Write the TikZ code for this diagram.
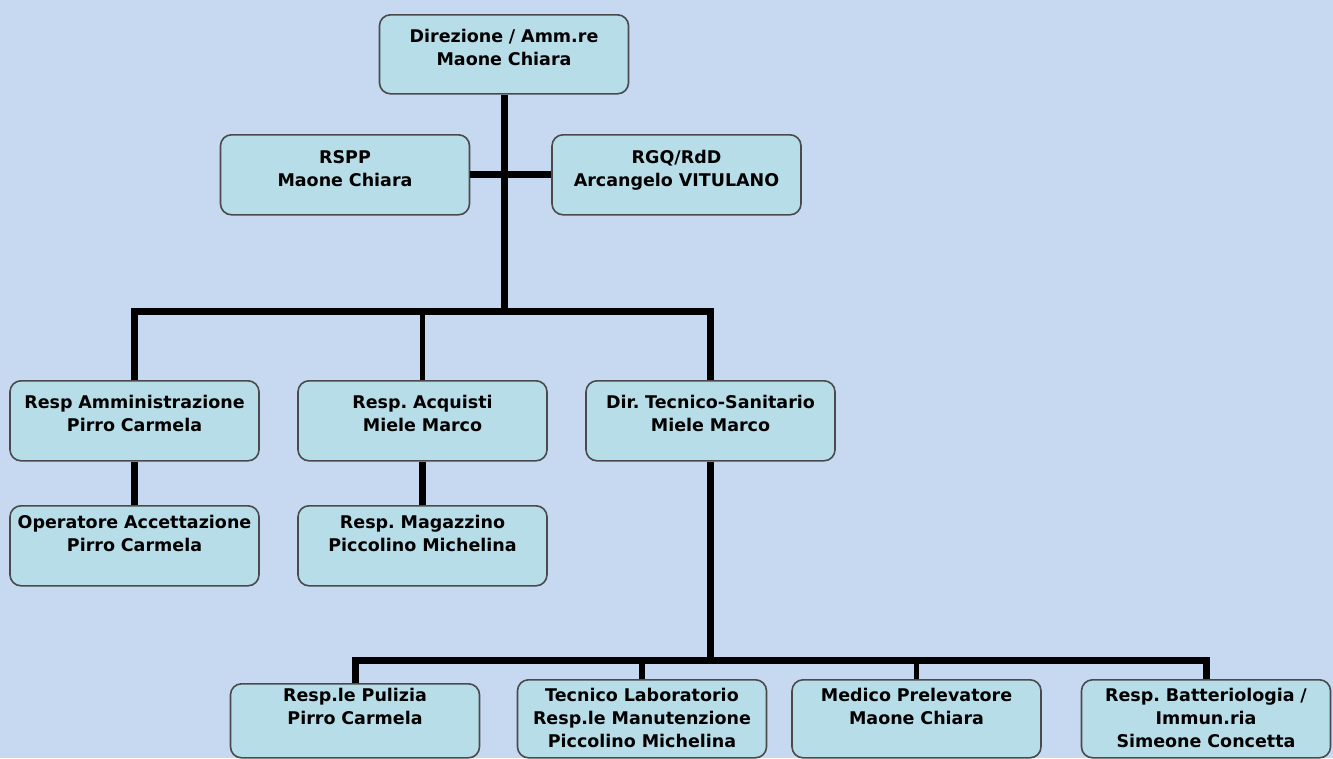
\documentclass[tikz,border=0pt]{standalone}
\usepackage{fontspec}
\setmainfont{DejaVu Sans}
\frenchspacing
\definecolor{bgblue}{HTML}{C6D9F1}
\definecolor{boxfill}{HTML}{B7DEE8}
\definecolor{boxline}{HTML}{4A4A4A}
\tikzset{
	unit/.style={draw=boxline, line width=1.6pt, fill=boxfill, rounded corners=11pt,
		anchor=north, inner sep=0pt, minimum width=249pt, text width=249pt, align=center,
		font=\fontsize{17.5}{23}\selectfont\bfseries, text height=28pt, text depth=51pt},
	link/.style={line width=7pt, color=black}
}

\begin{document}
\begin{tikzpicture}[x=1pt, y=-1pt]
		%%%%% START %%%%%
		
		\fill[bgblue] (0, 0) rectangle (1333, 758);
		\useasboundingbox (0, 0) rectangle (1333, 758);
		
		% top level
		\node[unit] (dir) at (504, 14) {Direzione / Amm.re\\Maone Chiara};
		\node[unit, text height=29pt, text depth=51pt] (rspp) at (345, 134) {RSPP\\Maone Chiara};
		\node[unit, text height=29pt, text depth=51pt] (rgq) at (676.5, 134) {RGQ/RdD\\Arcangelo VITULANO};
		
		% second level
		\node[unit, text height=28pt, text depth=52pt] (amm) at (134.5, 380) {Resp Amministrazione\\Pirro Carmela};
		\node[unit, text height=28pt, text depth=52pt] (acq) at (422.5, 380) {Resp. Acquisti\\Miele Marco};
		\node[unit, text height=28pt, text depth=52pt] (tec) at (710.5, 380) {Dir. Tecnico-Sanitario\\Miele Marco};
		
		\node[unit, text height=23pt, text depth=57pt] (opacc) at (134.5, 505) {Operatore Accettazione\\Pirro Carmela};
		\node[unit, text height=23pt, text depth=57pt] (mag) at (422.5, 505) {Resp. Magazzino\\Piccolino Michelina};
		
		% third level
		\node[unit, text height=18pt, text depth=56pt] (pul) at (355, 683) {Resp.le Pulizia\\Pirro Carmela};
		\node[unit, text height=22pt, text depth=56pt] (lab) at (642, 679) {Tecnico Laboratorio\\Resp.le Manutenzione\\Piccolino Michelina};
		\node[unit, text height=22pt, text depth=56pt] (med) at (916.5, 679) {Medico Prelevatore\\Maone Chiara};
		\node[unit, text height=22pt, text depth=56pt] (batt) at (1206, 679) {Resp. Batteriologia /\\Immun.ria\\Simeone Concetta};
		
		% connectors
		\coordinate (bar1) at (504, 311);
		\coordinate (bar2) at (710.5, 660);
		
		\draw[link] (dir.south) -- (bar1);
		\draw[link] (rspp.east) -- (rgq.west);
		\draw[link] (amm.north) |- (bar1) -| (tec.north);
		\draw[link, line width=5.5pt] (acq.north) -- (acq.north |- bar1);
		\draw[link] (amm.south) -- (opacc.north);
		\draw[link] (acq.south) -- (mag.north);
		
		\draw[link] (tec.south) -- (bar2);
		\draw[link] (pul.north) |- (bar2) -| (batt.north);
		\draw[link, line width=5.5pt] (lab.north) -- (lab.north |- bar2);
		\draw[link, line width=5.5pt] (med.north) -- (med.north |- bar2);
		
		%%%%% END %%%%%
	\end{tikzpicture}
\end{document}
